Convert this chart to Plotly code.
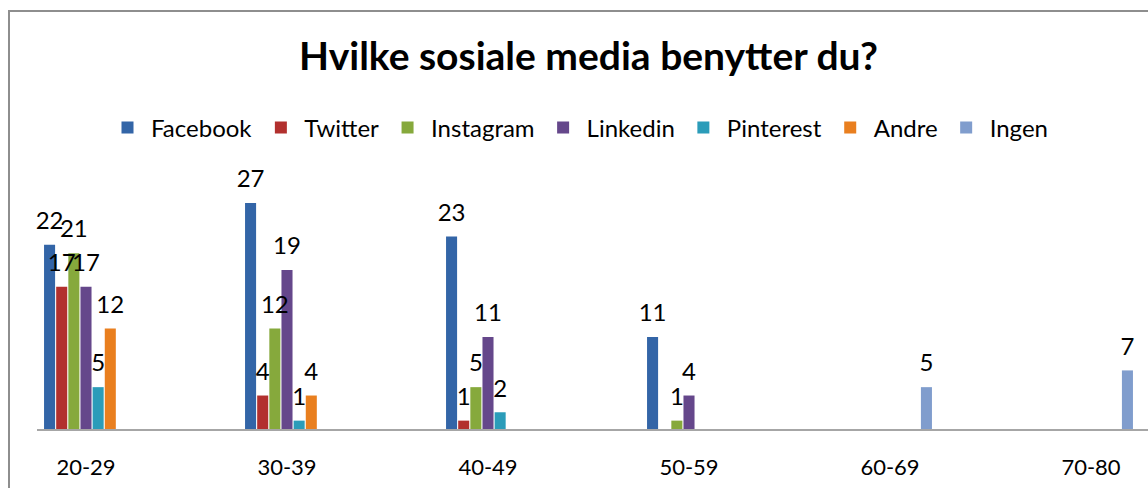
import plotly.graph_objects as go

categories = ["20-29", "30-39", "40-49", "50-59", "60-69", "70-80"]
series_names = ["Facebook", "Twitter", "Instagram", "Linkedin", "Pinterest", "Andre", "Ingen"]
facebook = [22, 27, 23, 11, None, None]
twitter = [17, 4, 1, None, None, None]
instagram = [21, 12, 5, 1, None, None]
linkedin = [17, 19, 11, 4, None, None]
pinterest = [5, 1, 2, None, None, None]
andre = [12, 4, None, None, None, None]
ingen = [None, None, None, None, 5, 7]
title_text = "Hvilke sosiale media benytter du?"

values = [facebook, twitter, instagram, linkedin, pinterest, andre, ingen]
colors = ["#3365A7", "#B2302E", "#86A93C", "#65478B", "#2B9CB9", "#E97F1F", "#809DCD"]

FONT = "Lato"
W, H = 1148, 488
L, R, T, B = 37, 0, 170, 59
plot_w = W - L - R
plot_h = H - T - B
cat_px = 201.0
first_center = 86.0
x0 = -(first_center - L) / cat_px
x1 = x0 + plot_w / cat_px
px_per_unit = 8.37
ymax = plot_h / px_per_unit
GAP = 0.577

fig = go.Figure()
for name, vals, col in zip(series_names, values, colors):
    fig.add_trace(go.Bar(
        name=name, x=categories, y=vals,
        marker=dict(color=col, line=dict(width=0)),
        hoverinfo="skip",
    ))

# value labels: grouped text points aligned with the bar groups
for name, vals in zip(series_names, values):
    fig.add_trace(go.Scatter(
        name=name + " label", x=categories, y=vals,
        mode="markers+text",
        marker=dict(size=14, opacity=0),
        text=[("" if v is None else str(v)) for v in vals],
        textposition="top center",
        textfont=dict(family=FONT, size=24, color="#000000"),
        cliponaxis=False, showlegend=False, hoverinfo="skip",
    ))

# chart border (cropped at right/bottom)
fig.add_shape(type="rect", xref="paper", yref="paper",
              x0=(9 - L) / plot_w, x1=1.2,
              y0=-0.6, y1=(H - B - 11) / plot_h,
              line=dict(color="#8E8E8E", width=2), fillcolor="rgba(0,0,0,0)", layer="below")

fig.update_layout(
    width=W, height=H,
    margin=dict(l=L, r=R, t=T, b=B, pad=0),
    paper_bgcolor="white", plot_bgcolor="white",
    barmode="group", bargap=GAP, bargroupgap=0.09,
    scattermode="group", scattergap=GAP,
    title=dict(text="<b>" + title_text + "</b>", x=588.5 / W, xref="container", xanchor="center",
               y=1 - 56 / H, yref="container", yanchor="middle",
               font=dict(family=FONT, size=39, color="#000000")),
    legend=dict(orientation="h", xref="container", yref="container",
                x=104 / W, xanchor="left", y=1 - 128 / H, yanchor="middle",
                font=dict(family=FONT, size=24, color="#000000"),
                itemwidth=37,
                bgcolor="rgba(0,0,0,0)", itemclick=False, itemdoubleclick=False,
                traceorder="normal"),
    xaxis=dict(type="category", range=[x0, x1], showline=True, linecolor="#A6A6A6", linewidth=2,
               showgrid=False, zeroline=False, ticks="outside", ticklen=18,
               tickcolor="rgba(0,0,0,0)",
               tickfont=dict(family=FONT, size=22, color="#000000")),
    yaxis=dict(range=[0, ymax], visible=False, showgrid=False, zeroline=False),
    showlegend=True,
)

fig.write_html("out.html")
